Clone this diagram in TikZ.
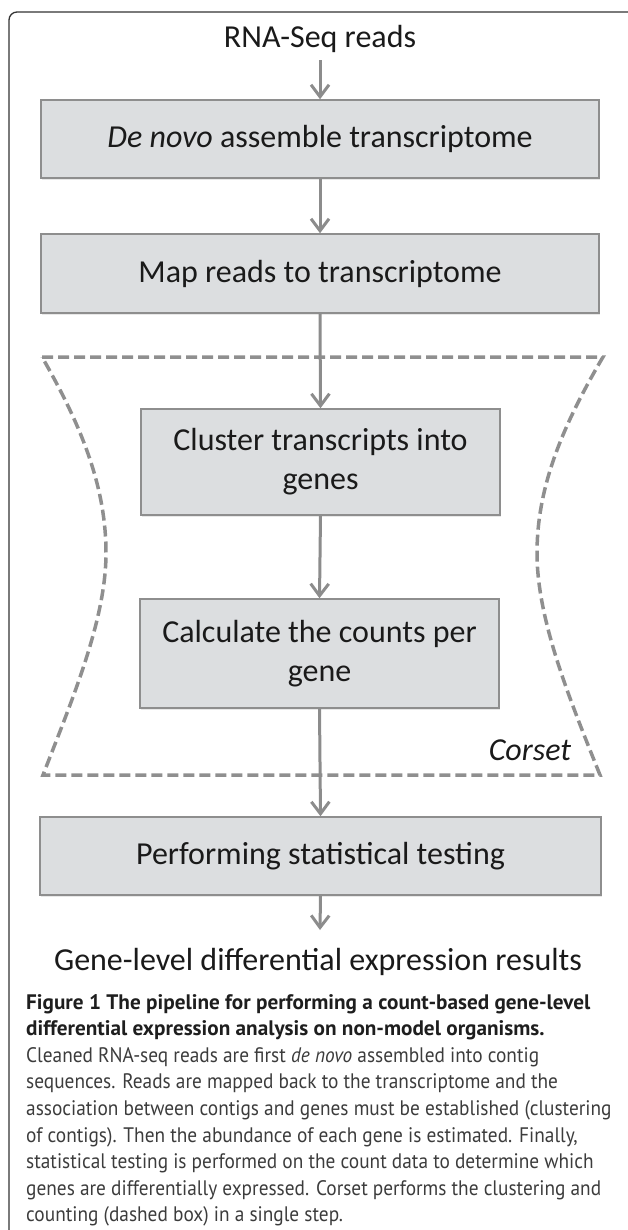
\documentclass[tikz,border=0pt]{standalone}
\usepackage{fontspec}
\setmainfont{Carlito}
\newfontfamily\capfont[FakeStretch=0.92]{PT Sans}
\newfontfamily\capbf[FakeStretch=1.01]{PT Sans}
\usetikzlibrary{arrows.meta,shadows}
\definecolor{boxfill}{HTML}{DCDEE0}
\definecolor{boxline}{HTML}{8E8E8E}
\definecolor{arrowcol}{HTML}{8C8C8C}
\definecolor{dashcol}{HTML}{8F8F8F}
\definecolor{txt}{HTML}{1A1A1A}
\definecolor{captxt}{HTML}{3C3C3C}
\definecolor{capbold}{HTML}{1E1E1E}
\definecolor{framecol}{HTML}{333333}
\begin{document}
\begin{tikzpicture}[x=1pt,y=-1pt,
  stepbox/.style={draw=boxline, line width=1.5pt, fill=boxfill, text=txt,
    inner sep=0pt, align=center, font=\fontsize{32}{39}\selectfont,
    drop shadow={shadow xshift=0.5pt, shadow yshift=-2pt, opacity=0.18}},
  flow/.style={draw=arrowcol, line width=3pt,
    -{Straight Barb[length=12pt, width=18pt, line width=3pt]}},
  bigtext/.style={text=txt, inner sep=0pt, font=\fontsize{32}{39}\selectfont},
  capline/.style={anchor=base west, inner sep=0pt, text=captxt,
    font=\capfont\fontsize{21}{26.6}\selectfont},
  capbline/.style={anchor=base west, inner sep=0pt, text=capbold,
    font=\capbf\bfseries\fontsize{21}{26.6}\selectfont},
  corsetline/.style={draw=dashcol, line width=3.5pt, dash pattern=on 11pt off 5pt}
]
\useasboundingbox (0,0) rectangle (627,1230);
% frame
\draw[framecol, line width=1.3pt, rounded corners=8pt] (9,1235) -- (9,12) -- (632,12);

% corset dashed region
\draw[corsetline, line join=miter]
  (42,357) -- (603,357)
  .. controls (560,430) and (537,490) .. (537,553)
  .. controls (537,620) and (570,700) .. (600,775)
  -- (43,775)
  .. controls (72,700) and (106,620) .. (106,553)
  .. controls (106,490) and (84,430) .. cycle;

% nodes
\node[bigtext, anchor=base] (rna) at (320,48) {RNA-Seq reads};
\node[stepbox, minimum width=558pt, minimum height=78pt] (b1) at (320,139)
  {\textit{De novo} assemble transcriptome};
\node[stepbox, minimum width=558pt, minimum height=79pt] (b2) at (320,273.5)
  {Map reads to transcriptome};
\node[stepbox, minimum width=359pt, minimum height=106pt] (b3) at (320.5,462)
  {Cluster transcripts into\\genes};
\node[stepbox, minimum width=359pt, minimum height=109pt] (b4) at (319.5,653.5)
  {Calculate the counts per\\gene};
\node[stepbox, minimum width=561pt, minimum height=78pt] (b5) at (320.5,856)
  {Performing statistical testing};
\node[bigtext, anchor=base] (corset) at (530,760) {\textit{Corset}};
\node[bigtext, anchor=base] (res) at (318,970) {Gene-level differential expression results};
\coordinate (resin) at (320,930);

% connectors
\draw[flow, shorten <=7pt] (rna.south) -- (b1.north);
\draw[flow] (b1.south) -- (b2.north);
\draw[flow] (b2.south) -- (b3.north);
\draw[flow] (b3.south) -- (b4.north);
\draw[flow] (b4.south) -- (b5.north);
\draw[flow] (b5.south) -- (resin);

% caption
\node[capbline] (c1) at (26,1009) {Figure 1 The pipeline for performing a count-based gene-level};
\node[capbline] (c2) at (26,1035.6) {differential expression analysis on non-model organisms.};
\node[capline] (c3) at (26,1062.2) {Cleaned RNA-seq reads are first \textit{de novo} assembled into contig};
\node[capline] (c4) at (26,1088.8) {sequences. Reads are mapped back to the transcriptome and the};
\node[capline] (c5) at (26,1115.4) {association between contigs and genes must be established (clustering};
\node[capline] (c6) at (26,1142) {of contigs). Then the abundance of each gene is estimated. Finally,};
\node[capline] (c7) at (26,1168.6) {statistical testing is performed on the count data to determine which};
\node[capline] (c8) at (26,1195.2) {genes are differentially expressed. Corset performs the clustering and};
\node[capline] (c9) at (26,1221.8) {counting (dashed box) in a single step.};
\end{tikzpicture}
\end{document}
